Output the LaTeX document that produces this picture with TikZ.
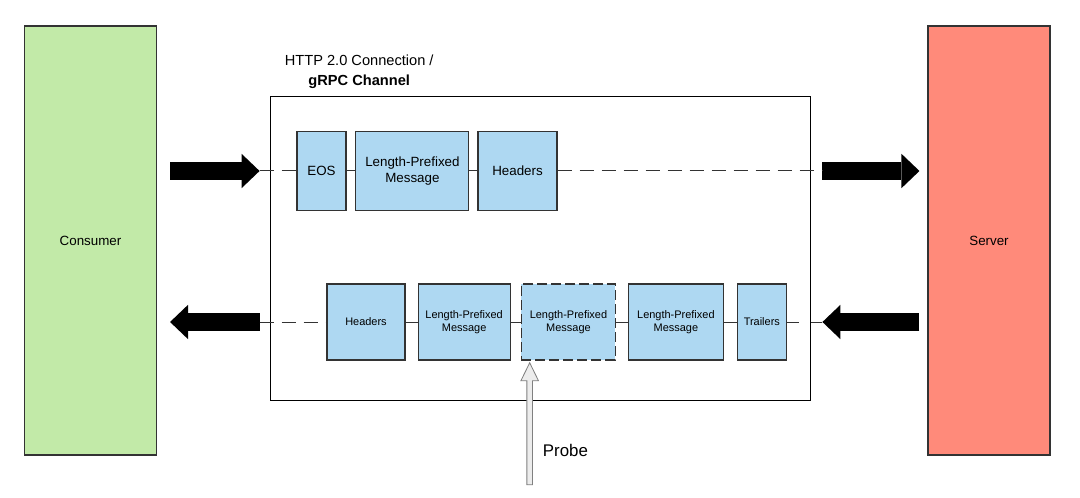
\documentclass[tikz,border=0pt]{standalone}
\usepackage{fontspec}
\setmainfont{Liberation Sans}
\usepackage{xcolor}
\usetikzlibrary{arrows.meta}
\usetikzlibrary{positioning,calc}

\definecolor{consumergreen}{HTML}{C2EAA8}
\definecolor{serverred}{HTML}{FF8A7A}
\definecolor{msgblue}{HTML}{AED8F2}
\definecolor{edgegray}{HTML}{333333}

\begin{document}
\begin{tikzpicture}[node distance=0.22cm, auto,
  party/.style={draw=edgegray, line width=0.8pt, minimum width=3.3cm, minimum height=10.725cm, font=\fontsize{9.5}{11}\selectfont},
  msg/.style={draw=edgegray, fill=msgblue, line width=0.8pt, minimum height=1.975cm, align=center, font=\fontsize{9.5}{11}\selectfont},
  smallmsg/.style={msg, minimum height=1.9cm, font=\fontsize{7.8}{9.5}\selectfont},
  fat/.style={line width=0.43cm, -{Triangle[length=0.45cm 0, width=0.86cm 0, line width=0pt]}},
  wire/.style={draw=edgegray, line width=0.7pt},
  dashwire/.style={wire, dash pattern=on 0.35cm off 0.2cm},
  probe/.style={draw=gray, fill=gray!15, line width=0.6pt}]
	\useasboundingbox (0,0) rectangle (27,12.45);
 %Nodes
	\node[party, fill=consumergreen] (consumer) at (2.2625,6.4375) {Consumer};
	\node[party, fill=serverred, minimum width=3.05cm] (server) at (24.725,6.4375) {Server};
	\node[draw, line width=0.6pt, minimum width=13.5cm, minimum height=7.6cm] (chan) at (13.5,6.25) {};
	\node[align=center, font=\fontsize{10.4}{14}\selectfont] (chanlabel) at (8.98,10.65) {HTTP 2.0 Connection /\\ \textbf{gRPC Channel}};
	% request stream
	\node[msg, minimum width=1.225cm] (eos) at (8.0375,8.175) {EOS};
	\node[msg, minimum width=2.825cm, right=of eos] (lpm) {Length-Prefixed\\Message};
	\node[msg, minimum width=1.975cm, right=0.2cm of lpm] (hdr) {Headers};
	% response stream
	\node[smallmsg, minimum width=1.95cm] (hdrb) at (9.15,4.4) {Headers};
	\node[smallmsg, minimum width=2.3cm, right=0.3cm of hdrb] (lpma) {Length-Prefixed\\Message};
	\node[smallmsg, minimum width=2.35cm, right=0.25cm of lpma, line width=1.1pt, dash pattern=on 0.25cm off 0.1cm] (lpmb) {Length-Prefixed\\Message};
	\node[smallmsg, minimum width=2.375cm, right=0.29cm of lpmb] (lpmc) {Length-Prefixed\\Message};
	\node[smallmsg, minimum width=1.225cm, right=0.32cm of lpmc] (trl) {Trailers};
	\node[font=\fontsize{12}{14}\selectfont, anchor=west] (probelabel) at (13.45,1.2) {Probe};
	% arrow ends
	\coordinate (reqtail) at ($(consumer.east |- eos)+(0.325,0)$);
	\coordinate (reqtip) at ($(chan.west |- eos)+(-0.25,0)$);
	\coordinate (outtail) at ($(chan.east |- hdr)+(0.3,0)$);
	\coordinate (outtip) at ($(server.west |- hdr)+(-0.2,0)$);
	\coordinate (restail) at ($(chan.west |- hdrb)+(-0.25,0)$);
	\coordinate (restip) at ($(consumer.east |- hdrb)+(0.325,0)$);
	\coordinate (srvtail) at ($(server.west |- trl)+(-0.2,0)$);
	\coordinate (srvtip) at ($(chan.east |- trl)+(0.3,0)$);
	\coordinate (tip) at ($(lpmb.south west)+(0.225,-0.05)$);
	\coordinate (probe) at (tip |- 0,0.33);
	% Arrows
	\draw[fat] (reqtail) -- (reqtip);
	\draw[fat] (outtail) -- (outtip);
	\draw[fat] (restail) -- (restip);
	\draw[fat] (srvtail) -- (srvtip);
	\draw[dashwire] (reqtip) -- (eos);
	\draw[wire] (eos) -- (lpm) -- (hdr);
	\draw[dashwire] (hdr) -- (outtail);
	\draw[dashwire] (restail) -- (hdrb);
	\draw[wire] (hdrb) -- (lpma) -- (lpmb) -- (lpmc) -- (trl);
	\draw[wire, dash pattern=on 0.3cm off 0.3cm] (trl) -- (srvtip);
	\draw[probe] ($(probe)+(-0.07,0)$) -- ($(tip)+(-0.07,-0.45)$) -- ($(tip)+(-0.22,-0.45)$) -- (tip)
	  -- ($(tip)+(0.22,-0.45)$) -- ($(tip)+(0.07,-0.45)$) -- ($(probe)+(0.07,0)$) -- cycle;
\end{tikzpicture}
\end{document}
